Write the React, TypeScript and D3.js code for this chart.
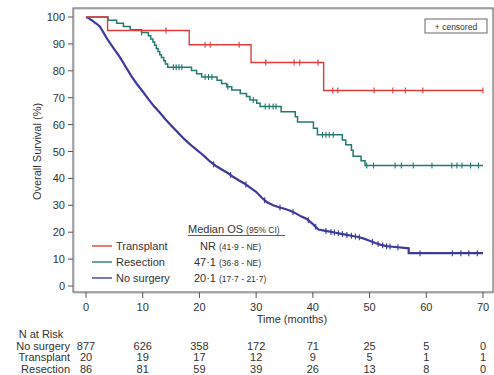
import React from "react";
import * as d3 from "d3";

const TIME_TICKS = [0, 10, 20, 30, 40, 50, 60, 70];
const SURV_TICKS = [0, 10, 20, 30, 40, 50, 60, 70, 80, 90, 100];

// Transplant (step points: time, survival %)
const TRANSPLANT_T = [0, 3.8, 18.2, 29.1, 41.9, 70];
const TRANSPLANT_S = [100, 95, 89.7, 83.1, 72.7, 72.7];
const TRANSPLANT_CENS = [14.1, 21.0, 21.9, 27.0, 31.7, 36.7, 37.7, 40.9, 43.5, 44.4, 50.8, 54.1, 56.3, 59.4, 70];

// Resection
const RESECTION_T = [0, 3.9, 5.4, 6.6, 7.8, 9.8, 11.0, 11.4, 11.8, 12.1, 12.4, 12.7, 13.0, 13.3, 13.7, 14.0, 14.4, 18.6, 19.5, 20.4, 23.1, 23.9, 24.8, 25.7, 27.2, 28.3, 28.9, 30.1, 30.7, 34.4, 36.9, 37.3, 40.1, 40.8, 45.2, 45.8, 46.8, 47.1, 48.5, 49.2, 70];
const RESECTION_S = [100, 98.8, 97.7, 96.5, 95.3, 94.2, 93.0, 91.8, 90.7, 89.5, 88.3, 87.2, 86.0, 84.9, 83.7, 82.5, 81.3, 80.1, 78.9, 77.7, 76.5, 75.3, 74.1, 72.9, 71.6, 70.4, 69.1, 67.9, 66.7, 64.8, 62.9, 61.0, 58.6, 56.2, 54.3, 52.5, 50.5, 48.2, 46.6, 44.8, 44.8];
const RESECTION_CENS = [9.8, 15.4, 15.9, 16.4, 16.9, 21.0, 21.6, 22.2, 25.0, 29.5, 31.6, 32.3, 33.0, 33.5, 41.7, 42.3, 42.9, 43.6, 49.5, 50.7, 54.5, 55.6, 57.7, 61.0, 64.5, 65.4, 66.3, 67.8, 69.2];

// No surgery
const NOSURG_T = [0, 0.5, 1, 1.5, 2, 2.5, 3, 3.5, 4, 5, 6, 7, 8, 9, 10, 11, 12, 13, 14, 15, 16, 17, 18, 19, 20, 21, 22, 23, 24, 25, 26, 27, 28, 29, 30, 31, 32, 33, 34, 35, 36, 37, 38, 39, 40, 41, 42, 43, 44, 45, 46, 47, 48, 49, 50, 51, 52, 53, 54, 55, 56.9, 56.9, 70];
const NOSURG_S = [100, 99.5, 98.8, 98, 97.3, 96.3, 94.5, 92.7, 91, 88, 85, 81.5, 78, 75, 72.3, 69.5, 66.8, 64.5, 62, 59.7, 57.5, 55.3, 53.3, 51.5, 49.8, 48, 46, 44.5, 43.2, 42, 40.5, 39.2, 38, 36.5, 35, 32.8, 31, 30, 29.3, 28.7, 28, 27, 25.8, 24.8, 23, 21, 20.6, 20.2, 19.8, 19.4, 19, 18.6, 18.2, 17.6, 16.8, 16, 15.3, 14.8, 14.6, 14.4, 14.0, 12.2, 12.2];
const NOSURG_CENS = [22.5, 25.5, 28.2, 31.5, 34.2, 36.5, 39.2, 40.5, 42.3, 43.2, 43.8, 44.5, 45.2, 46.0, 46.8, 47.5, 48.2, 50.5, 51.5, 52.3, 53.0, 53.6, 55.0, 58.9, 64.6, 66.1, 67.5, 69.0];

const RISK_GROUPS = ["No surgery", "Transplant", "Resection"];
const RISK_NOSURG = [877, 626, 358, 172, 71, 25, 5, 0];
const RISK_TRANS = [20, 19, 17, 12, 9, 5, 1, 1];
const RISK_RESEC = [86, 81, 59, 39, 26, 13, 8, 0];

const LEGEND_NAMES = ["Transplant", "Resection", "No surgery"];
const LEGEND_MEDIANS = ["NR", "47\u00b71", "20\u00b71"];
const LEGEND_CIS = ["(41\u00b79 - NE)", "(36\u00b78 - NE)", "(17\u00b77 - 21\u00b77)"];

const RED = "#e23b3b";
const TEAL = "#237a70";
const BLUE = "#3c3a9c";
const FONT = "'Liberation Sans', Arial, sans-serif";
const TXT = "#333";

const x = d3.scaleLinear().domain([0, 70]).range([86, 483]);
const y = d3.scaleLinear().domain([0, 100]).range([286, 17]);

function stepAt(ts: number[], ss: number[], t: number) {
  let v = ss[0];
  for (let i = 0; i < ts.length; i++) if (ts[i] <= t) v = ss[i];
  return v;
}
function linAt(ts: number[], ss: number[], t: number) {
  for (let i = 0; i < ts.length - 1; i++) {
    if (t >= ts[i] && t <= ts[i + 1]) {
      if (ts[i + 1] === ts[i]) return ss[i + 1];
      return ss[i] + ((t - ts[i]) / (ts[i + 1] - ts[i])) * (ss[i + 1] - ss[i]);
    }
  }
  return ss[ss.length - 1];
}

export default function App() {
  const stepLine = d3
    .line<[number, number]>()
    .x((d) => x(d[0]))
    .y((d) => y(d[1]))
    .curve(d3.curveStepAfter);
  const linLine = d3
    .line<[number, number]>()
    .x((d) => x(d[0]))
    .y((d) => y(d[1]));

  const zip = (a: number[], b: number[]) => a.map((v, i) => [v, b[i]] as [number, number]);

  const series = [
    { t: NOSURG_T, s: NOSURG_S, c: NOSURG_CENS, color: BLUE, w: 2.2, step: false },
    { t: RESECTION_T, s: RESECTION_S, c: RESECTION_CENS, color: TEAL, w: 1.5, step: true },
    { t: TRANSPLANT_T, s: TRANSPLANT_S, c: TRANSPLANT_CENS, color: RED, w: 1.4, step: true },
  ];

  const legendColors = [RED, TEAL, BLUE];
  const riskRows = [RISK_NOSURG, RISK_TRANS, RISK_RESEC];

  return (
    <svg width={494} height={375} style={{ position: "absolute", left: 0, top: 0, background: "#fff" }} fontFamily={FONT}>
      {/* frame */}
      <rect x={74} y={9} width={420} height={284} fill="none" stroke="#d4d4d4" strokeWidth={1.5} />
      <rect x={73} y={8} width={420} height={284} fill="none" stroke="#777" strokeWidth={1.2} />

      {/* y axis ticks */}
      {SURV_TICKS.map((v) => (
        <g key={"y" + v}>
          <line x1={68} x2={73} y1={y(v)} y2={y(v)} stroke="#555" strokeWidth={1} />
          <text x={65} y={y(v) + 4} fontSize={11} textAnchor="end" fill={TXT}>
            {v}
          </text>
        </g>
      ))}
      <text
        transform={`translate(41,${(y(0) + y(100)) / 2}) rotate(-90)`}
        fontSize={11}
        textAnchor="middle"
        fill={TXT}
      >
        Overall Survival (%)
      </text>

      {/* x axis ticks */}
      {TIME_TICKS.map((v) => (
        <g key={"x" + v}>
          <line x1={x(v)} x2={x(v)} y1={292} y2={298} stroke="#555" strokeWidth={1} />
          <text x={x(v)} y={311} fontSize={11} textAnchor="middle" fill={TXT}>
            {v}
          </text>
        </g>
      ))}
      <text x={292} y={323} fontSize={11} textAnchor="middle" fill={TXT}>
        Time (months)
      </text>

      {/* curves */}
      {series.map((se, i) => (
        <g key={"s" + i}>
          <path
            d={(se.step ? stepLine : linLine)(zip(se.t, se.s)) || ""}
            fill="none"
            stroke={se.color}
            strokeWidth={se.w}
          />
          {se.c.map((ct, j) => {
            const sv = se.step ? stepAt(se.t, se.s, ct) : linAt(se.t, se.s, ct);
            return (
              <line
                key={j}
                x1={x(ct)}
                x2={x(ct)}
                y1={y(sv) - 3}
                y2={y(sv) + 3}
                stroke={se.color}
                strokeWidth={1.1}
              />
            );
          })}
        </g>
      ))}

      {/* censored legend */}
      <rect x={425} y={19} width={62} height={14} fill="#fff" stroke="#666" strokeWidth={1} />
      <text x={456} y={29.5} fontSize={8.5} textAnchor="middle" fill={TXT}>
        + censored
      </text>

      {/* median OS legend */}
      <text x={188} y={233} fill={TXT}>
        <tspan fontSize={11}>Median OS </tspan>
        <tspan fontSize={8.5}>(95% CI)</tspan>
      </text>
      <line x1={188} x2={285} y1={235.5} y2={235.5} stroke={TXT} strokeWidth={0.8} />
      {LEGEND_NAMES.map((n, i) => {
        const yy = 250 + i * 16;
        return (
          <g key={"l" + i}>
            <line x1={92} x2={112} y1={yy - 4} y2={yy - 4} stroke={legendColors[i]} strokeWidth={1.6} opacity={0.85} />
            <text x={116} y={yy} fontSize={11} fill={TXT}>
              {n}
            </text>
            <text x={216} y={yy} fontSize={11} textAnchor="end" fill={TXT}>
              {LEGEND_MEDIANS[i]}
            </text>
            <text x={219} y={yy} fontSize={8.5} fill={TXT}>
              {LEGEND_CIS[i]}
            </text>
          </g>
        );
      })}

      {/* number at risk */}
      <text x={41} y={338} fontSize={11} textAnchor="middle" fill={TXT}>
        N at Risk
      </text>
      {RISK_GROUPS.map((g, i) => {
        const yy = 349.5 + i * 11.8;
        return (
          <g key={"r" + i}>
            <text x={70} y={yy} fontSize={11} textAnchor="end" fill={TXT}>
              {g}
            </text>
            {riskRows[i].map((v, j) => (
              <text key={j} x={x(TIME_TICKS[j])} y={yy} fontSize={11} textAnchor="middle" fill={TXT}>
                {v}
              </text>
            ))}
          </g>
        );
      })}
    </svg>
  );
}
